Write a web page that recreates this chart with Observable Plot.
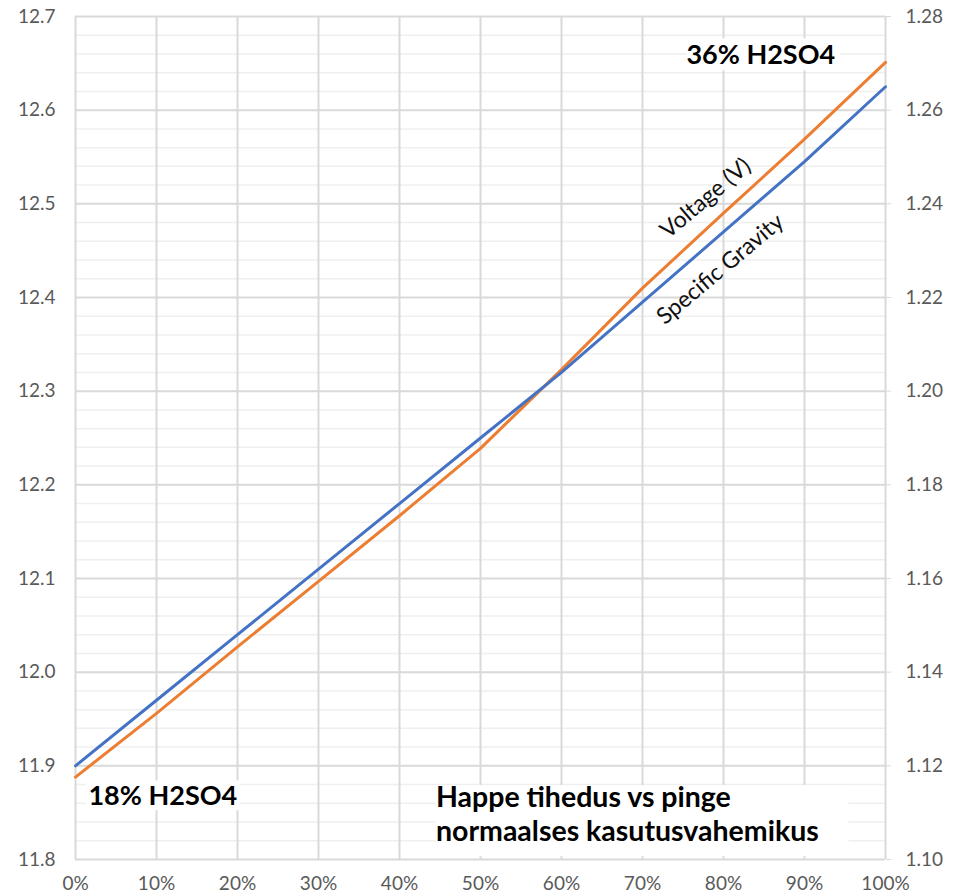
<!DOCTYPE html>
<html><head><meta charset="utf-8">
<script src="https://cdn.jsdelivr.net/npm/d3@7"></script>
<script src="https://cdn.jsdelivr.net/npm/@observablehq/plot@0.6"></script>
<style>body{margin:0;background:#fff} svg{display:block}</style>
</head><body><div id="chart"></div>
<script>
// Discharge level (%), x axis
const pct = [0, 10, 20, 30, 40, 50, 60, 70, 80, 90, 100];
// Voltage (V), left axis
const voltage = [11.888, 11.956, 12.027, 12.097, 12.167, 12.239, 12.323, 12.410, 12.490, 12.569, 12.651];
// Specific gravity, right axis
const gravity = [1.120, 1.134, 1.148, 1.162, 1.176, 1.190, 1.204, 1.219, 1.234, 1.249, 1.265];
// Tick labels
const leftTicks = [11.8, 11.9, 12.0, 12.1, 12.2, 12.3, 12.4, 12.5, 12.6, 12.7];
const rightTicks = [1.10, 1.12, 1.14, 1.16, 1.18, 1.20, 1.22, 1.24, 1.26, 1.28];
const xTicks = [0, 10, 20, 30, 40, 50, 60, 70, 80, 90, 100];

// map secondary axis (gravity) onto primary (voltage) domain
const gToV = d3.scaleLinear().domain([1.10, 1.28]).range([11.8, 12.7]);
const minor = d3.range(0, 46).map(i => 11.8 + i * 0.02).filter(v => Math.abs(v * 10 - Math.round(v * 10)) > 0.01);

const data = pct.map((p, i) => ({x: p / 100, v: voltage[i], g: gToV(gravity[i])}));

const boxes = [
  {x1: 0.013, x2: 0.203, y1: 11.852, y2: 11.884},
  {x1: 0.445, x2: 0.955, y1: 11.803, y2: 11.879},
  {x1: 0.755, x2: 0.945, y1: 12.642, y2: 12.676}
];

const bold = {fontFamily: "Lato", fontWeight: "bold", fill: "#000"};

const chart = Plot.plot({
  width: 956, height: 896,
  marginLeft: 75, marginRight: 71, marginTop: 16, marginBottom: 37,
  style: {fontFamily: "Lato", fontSize: "19px", color: "#595959", background: "#fff"},
  x: {domain: [0, 1]},
  y: {domain: [11.8, 12.7]},
  marks: [
    Plot.ruleY(minor, {stroke: "#efefef", strokeWidth: 1.5}),
    Plot.ruleY(leftTicks, {stroke: "#d9d9d9", strokeWidth: 2}),
    Plot.ruleX(xTicks.map(p => p / 100), {stroke: "#d9d9d9", strokeWidth: 2}),
    Plot.rect(boxes, {x1: "x1", x2: "x2", y1: "y1", y2: "y2", fill: "#fff"}),
    Plot.axisY(leftTicks, {anchor: "left", tickSize: 0, tickPadding: 20, fill: "#595959", tickFormat: d => d.toFixed(1), label: null}),
    Plot.axisY(rightTicks.map(g => gToV(g)), {anchor: "right", tickSize: 5, tickPadding: 15, stroke: "#d9d9d9", fill: "#595959",
      tickFormat: v => gToV.invert(v).toFixed(2), label: null}),
    Plot.axisX(xTicks.map(p => p / 100), {anchor: "bottom", tickSize: 0, tickPadding: 17, fill: "#595959",
      tickFormat: d => Math.round(d * 100) + "%", label: null}),
    Plot.line(data, {x: "x", y: "v", stroke: "#ED7D31", strokeWidth: 3}),
    Plot.line(data, {x: "x", y: "g", stroke: "#4472C4", strokeWidth: 3}),
    Plot.text(["Voltage (V)"], {x: 0.778, y: 12.506, text: d => d, rotate: -40, fontFamily: "Lato", fontSize: 23, fill: "#111"}),
    Plot.text(["Specific Gravity"], {x: 0.796, y: 12.430, text: d => d, rotate: -40, fontFamily: "Lato", fontSize: 23, fill: "#111"}),
    Plot.text(["36% H2SO4"], {x: 0.846, y: 12.658, text: d => d, textAnchor: "middle", fontSize: 27, ...bold}),
    Plot.text(["18% H2SO4"], {x: 0.016, y: 11.867, text: d => d, textAnchor: "start", fontSize: 27, ...bold}),
    Plot.text(["Happe tihedus vs pinge"], {x: 0.445, y: 11.866, text: d => d, textAnchor: "start", fontSize: 28.5, ...bold}),
    Plot.text(["normaalses kasutusvahemikus"], {x: 0.445, y: 11.830, text: d => d, textAnchor: "start", fontSize: 28.5, ...bold})
  ]
});
document.getElementById("chart").append(chart);
</script>
</body></html>
